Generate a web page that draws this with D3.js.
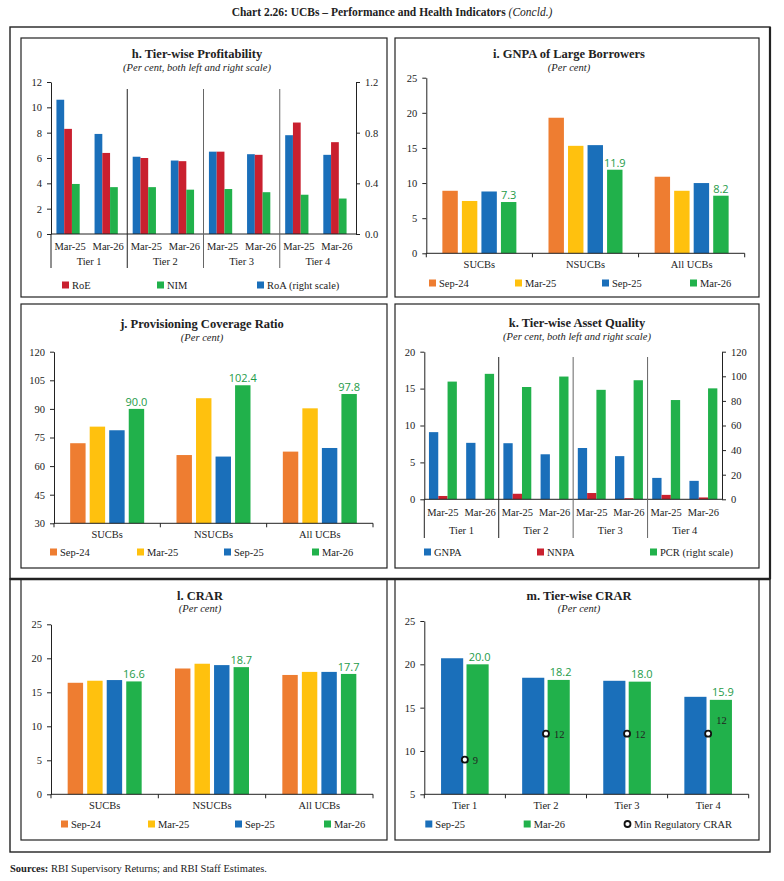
<!DOCTYPE html>
<html>
<head>
<meta charset="utf-8">
<script src="https://cdn.jsdelivr.net/npm/d3@7"></script>
<style>
  body { margin: 0; background: #fff; }
  svg text { font-family: "Liberation Serif", serif; fill: #222; }
  svg text.val { font-family: "Open Sans", sans-serif; fill: #1E9B48; }
</style>
</head>
<body>
<svg id="chart" width="784" height="881"></svg>
<script>
// ---- data ----
const tiers = ['Tier 1', 'Tier 2', 'Tier 3', 'Tier 4']
const tierPeriods = ['Mar-25', 'Mar-26']

// h. Tier-wise Profitability (Mar-25, Mar-26 for each tier)
const roe = [8.3, 6.4, 6.0, 5.75, 6.5, 6.25, 8.8, 7.25]
const nim = [3.95, 3.7, 3.7, 3.5, 3.55, 3.3, 3.1, 2.8]
const roa = [1.06, 0.79, 0.61, 0.58, 0.65, 0.63, 0.78, 0.625]
const profitLeftTicks = [0, 2, 4, 6, 8, 10, 12]
const profitRightTicks = [0, 0.4, 0.8, 1.2]

// i, j, l: by bank group and period
const bankGroups = ['SUCBs', 'NSUCBs', 'All UCBs']
const periods = ['Sep-24', 'Mar-25', 'Sep-25', 'Mar-26']

const gnpaSep24 = [8.9, 19.3, 10.9]
const gnpaMar25 = [7.45, 15.3, 8.9]
const gnpaSep25 = [8.8, 15.4, 10.0]
const gnpaMar26 = [7.3, 11.9, 8.2]
const gnpaTicks = [0, 5, 10, 15, 20, 25]

const pcrSep24 = [72.0, 65.8, 67.6]
const pcrMar25 = [80.7, 95.6, 90.3]
const pcrSep25 = [78.8, 65.0, 69.5]
const pcrMar26 = [90.0, 102.4, 97.8]
const pcrTicks = [30, 45, 60, 75, 90, 105, 120]

const crarSep24 = [16.4, 18.5, 17.55]
const crarMar25 = [16.7, 19.2, 18.0]
const crarSep25 = [16.8, 19.0, 18.0]
const crarMar26 = [16.6, 18.7, 17.7]
const crarTicks = [0, 5, 10, 15, 20, 25]

// k. Tier-wise Asset Quality
const tierGnpa = [9.1, 7.65, 7.6, 6.1, 6.95, 5.85, 2.9, 2.5]
const tierNnpa = [0.45, 0.0, 0.75, 0.0, 0.85, 0.15, 0.6, 0.25]
const tierPcr = [95.7, 102.0, 91.3, 99.8, 89.0, 96.8, 80.7, 90.2]
const aqLeftTicks = [0, 5, 10, 15, 20]
const aqRightTicks = [0, 20, 40, 60, 80, 100, 120]

// m. Tier-wise CRAR
const tierCrarSep25 = [20.7, 18.45, 18.1, 16.25]
const tierCrarMar26 = [20.0, 18.2, 18.0, 15.9]
const minCrar = [9, 12, 12, 12]
const tierCrarTicks = [5, 10, 15, 20, 25]

// ---- drawing ----
const C = {
  orange: '#EE7D31', yellow: '#FFC10E', blue: '#1A6FBA',
  green: '#21B14B', red: '#C9202F', line: '#222'
}

const svg = d3.select('#chart')

function frame(x0, y0, x1, y1, w = 1.2) {
  svg.append('rect')
    .attr('x', x0).attr('y', y0)
    .attr('width', x1 - x0).attr('height', y1 - y0)
    .attr('fill', 'none').attr('stroke', C.line).attr('stroke-width', w)
}

function titles(cx, y, title, sub) {
  svg.append('text').attr('x', cx).attr('y', y)
    .attr('text-anchor', 'middle').attr('font-size', 12.5).attr('font-weight', 'bold')
    .text(title)
  svg.append('text').attr('x', cx).attr('y', y + 12.5)
    .attr('text-anchor', 'middle').attr('font-size', 10.5).attr('font-style', 'italic')
    .text(sub)
}

function legend(items, y) {
  items.forEach(d => {
    if (d.circle) {
      svg.append('circle').attr('cx', d.x + 3.5).attr('cy', y)
        .attr('r', 3).attr('fill', '#fff').attr('stroke', '#111').attr('stroke-width', 1.8)
    } else {
      svg.append('rect').attr('x', d.x).attr('y', y - 3.5)
        .attr('width', 7).attr('height', 7).attr('fill', d.color)
    }
    svg.append('text').attr('x', d.x + 10).attr('y', y + 3.6)
      .attr('font-size', 10.5).text(d.label)
  })
}

function styleAxis(g) {
  g.attr('color', C.line).attr('font-size', 10.5)
  g.select('.domain').attr('stroke-width', 1)
  g.selectAll('.tick line').attr('stroke-width', 1)
}

// grouped bars (i, j, l): 3 bank groups x 4 periods
function groupedChart(o) {
  const x0 = d3.scaleBand().domain(bankGroups).range([o.left, o.right])
  const gw = 74
  const x1 = d3.scaleBand().domain(periods)
    .range([(x0.bandwidth() - gw) / 2, (x0.bandwidth() + gw) / 2])
    .paddingInner(0.21)
  const y = d3.scaleLinear().domain(o.domain).range([o.zero, o.top])
  const cols = [C.orange, C.yellow, C.blue, C.green]

  o.series.forEach((vals, si) => {
    svg.append('g').selectAll('rect')
      .data(vals)
      .join('rect')
      .attr('x', (d, i) => x0(bankGroups[i]) + x1(periods[si]))
      .attr('y', d => y(d))
      .attr('width', x1.bandwidth())
      .attr('height', d => y(o.domain[0]) - y(d))
      .attr('fill', cols[si])
  })

  // value labels on the last series
  svg.append('g').selectAll('text')
    .data(o.series[3])
    .join('text')
    .attr('class', 'val')
    .attr('x', (d, i) => x0(bankGroups[i]) + x1(periods[3]) + x1.bandwidth() / 2)
    .attr('y', d => y(d) - 3)
    .attr('text-anchor', 'middle')
    .attr('font-size', 11)
    .text(d => d.toFixed(1))

  const ax = svg.append('g').attr('transform', `translate(${o.left},0)`)
    .call(d3.axisLeft(y).tickValues(o.ticks).tickSize(4).tickSizeOuter(0).tickPadding(5))
  styleAxis(ax)

  // category axis with boundary ticks
  svg.append('line').attr('x1', o.left).attr('x2', o.right)
    .attr('y1', o.zero).attr('y2', o.zero).attr('stroke', C.line)
  const bounds = bankGroups.map(g => x0(g)).concat([o.right])
  svg.append('g').selectAll('line')
    .data(bounds)
    .join('line')
    .attr('x1', d => d).attr('x2', d => d)
    .attr('y1', o.zero).attr('y2', o.zero + 4)
    .attr('stroke', C.line)
  svg.append('g').selectAll('text')
    .data(bankGroups)
    .join('text')
    .attr('x', d => x0(d) + x0.bandwidth() / 2)
    .attr('y', o.zero + 14.5)
    .attr('text-anchor', 'middle')
    .attr('font-size', 10.5)
    .text(d => d)

  legend(periods.map((p, i) => ({ x: o.legendX[i], color: cols[i], label: p })), o.legendY)
}

// dual-axis tier charts (h, k): 4 tiers x 2 periods
function tierChart(o) {
  const cats = d3.range(8)
  const x0 = d3.scaleBand().domain(cats).range([o.left, o.right])
  const gw = x0.bandwidth() * o.groupFrac
  const x1 = d3.scaleBand().domain(d3.range(o.series.length))
    .range([(x0.bandwidth() - gw) / 2 + o.shift, (x0.bandwidth() + gw) / 2 + o.shift])
  const yL = d3.scaleLinear().domain(o.leftDomain).range([o.zero, o.top])
  const yR = d3.scaleLinear().domain(o.rightDomain).range([o.zero, o.top])

  o.series.forEach((s, si) => {
    const y = s.right ? yR : yL
    svg.append('g').selectAll('rect')
      .data(s.values)
      .join('rect')
      .attr('x', (d, i) => x0(i) + x1(si))
      .attr('y', d => y(d))
      .attr('width', x1.bandwidth())
      .attr('height', d => y(0) - y(d))
      .attr('fill', s.color)
  })

  const axL = svg.append('g').attr('transform', `translate(${o.left},0)`)
    .call(d3.axisLeft(yL).tickValues(o.leftTicks).tickFormat(o.leftFmt)
      .tickSize(4).tickSizeOuter(0).tickPadding(5))
  styleAxis(axL)
  const axR = svg.append('g').attr('transform', `translate(${o.right},0)`)
    .call(d3.axisRight(yR).tickValues(o.rightTicks).tickFormat(o.rightFmt)
      .tickSize(4).tickSizeOuter(0).tickPadding(5))
  styleAxis(axR)

  svg.append('line').attr('x1', o.left).attr('x2', o.right)
    .attr('y1', o.zero).attr('y2', o.zero).attr('stroke', C.line)
  // left edge continues down to the tier row
  svg.append('line').attr('x1', o.left).attr('x2', o.left)
    .attr('y1', o.zero).attr('y2', o.bottom).attr('stroke', C.line)
  // tier separators
  svg.append('g').selectAll('line')
    .data([2, 4, 6])
    .join('line')
    .attr('x1', d => x0(d)).attr('x2', d => x0(d))
    .attr('y1', o.sepTop).attr('y2', o.bottom)
    .attr('stroke', (d, i) => i === 0 ? C.line : '#666')
    .attr('stroke-width', 1)

  svg.append('g').selectAll('text')
    .data(cats)
    .join('text')
    .attr('x', d => x0(d) + x0.bandwidth() / 2)
    .attr('y', o.catY)
    .attr('text-anchor', 'middle')
    .attr('font-size', 10.5)
    .text(d => tierPeriods[d % 2])
  svg.append('g').selectAll('text')
    .data(tiers)
    .join('text')
    .attr('x', (d, i) => x0(i * 2) + x0.bandwidth())
    .attr('y', o.tierY)
    .attr('text-anchor', 'middle')
    .attr('font-size', 10.5)
    .text(d => d)

  legend(o.series.map((s, i) => o.legend[i]), o.legendY)
}

// ---- page title and frames ----
const head = svg.append('text').attr('x', 392).attr('y', 16).attr('text-anchor', 'middle')
  .attr('font-size', 11.5)
head.append('tspan').attr('font-weight', 'bold')
  .text('Chart 2.26: UCBs \u2013 Performance and Health Indicators ')
head.append('tspan').attr('font-style', 'italic').text('(Concld.)')

frame(10, 27, 770, 579, 1.4)
frame(10, 579, 770, 852, 1.4)
svg.append('line').attr('x1', 770).attr('x2', 770).attr('y1', 27).attr('y2', 579)
  .attr('stroke', C.line).attr('stroke-width', 2.2)
svg.append('line').attr('x1', 10).attr('x2', 770).attr('y1', 579).attr('y2', 579)
  .attr('stroke', C.line).attr('stroke-width', 2.4)

frame(21, 38, 387, 297)
frame(395, 38, 759, 297)
frame(21, 304, 387, 568)
frame(395, 304, 759, 568)
frame(21, 579, 387, 840)
frame(395, 579, 759, 840)

// h
titles(197, 58, 'h. Tier-wise Profitability', '(Per cent, both left and right scale)')
tierChart({
  left: 51, right: 356, top: 82, zero: 234,
  leftDomain: [0, 12], rightDomain: [0, 1.2],
  leftTicks: profitLeftTicks, rightTicks: profitRightTicks,
  leftFmt: d3.format('d'), rightFmt: d3.format('.1f'),
  groupFrac: 0.61, shift: -2,
  series: [
    { values: roa, color: C.blue, right: true },
    { values: roe, color: C.red },
    { values: nim, color: C.green }
  ],
  sepTop: 89, bottom: 268, catY: 250, tierY: 265,
  legend: [
    { x: 257, color: C.blue, label: 'RoA (right scale)' },
    { x: 62, color: C.red, label: 'RoE' },
    { x: 157, color: C.green, label: 'NIM' }
  ],
  legendY: 285
})

// i
titles(569, 58, 'i. GNPA of Large Borrowers', '(Per cent)')
groupedChart({
  left: 426.3, right: 744.7, top: 77.7, zero: 253.3,
  domain: [0, 25], ticks: gnpaTicks,
  series: [gnpaSep24, gnpaMar25, gnpaSep25, gnpaMar26],
  legendX: [429, 515, 602, 690], legendY: 283
})

// j
titles(202, 328, 'j. Provisioning Coverage Ratio', '(Per cent)')
groupedChart({
  left: 54, right: 373, top: 351.7, zero: 523.3,
  domain: [30, 120], ticks: pcrTicks,
  series: [pcrSep24, pcrMar25, pcrSep25, pcrMar26],
  legendX: [50, 137, 224, 312], legendY: 552
})

// k
titles(577, 327, 'k. Tier-wise Asset Quality', '(Per cent, both left and right scale)')
tierChart({
  left: 424.3, right: 722, top: 351.7, zero: 499.3,
  leftDomain: [0, 20], rightDomain: [0, 120],
  leftTicks: aqLeftTicks, rightTicks: aqRightTicks,
  leftFmt: d3.format('d'), rightFmt: d3.format('d'),
  groupFrac: 0.75, shift: 0,
  series: [
    { values: tierGnpa, color: C.blue },
    { values: tierNnpa, color: C.red },
    { values: tierPcr, color: C.green, right: true }
  ],
  sepTop: 357, bottom: 538, catY: 515.5, tierY: 534,
  legend: [
    { x: 424, color: C.blue, label: 'GNPA' },
    { x: 537, color: C.red, label: 'NNPA' },
    { x: 650, color: C.green, label: 'PCR (right scale)' }
  ],
  legendY: 552
})

// l
titles(200, 599.5, 'l. CRAR', '(Per cent)')
groupedChart({
  left: 51, right: 373, top: 624.3, zero: 794.3,
  domain: [0, 25], ticks: crarTicks,
  series: [crarSep24, crarMar25, crarSep25, crarMar26],
  legendX: [61, 148, 235, 324], legendY: 824
})

// m
titles(579, 599.5, 'm. Tier-wise CRAR', '(Per cent)')
{
  const left = 424.3, right = 748.7, top = 621, zero = 794.3
  const x0 = d3.scaleBand().domain(tiers).range([left, right])
  const x1 = d3.scaleBand().domain(['Sep-25', 'Mar-26'])
    .range([(x0.bandwidth() - 47.6) / 2, (x0.bandwidth() + 47.6) / 2]).paddingInner(0.13)
  const y = d3.scaleLinear().domain([5, 25]).range([zero, top])

  ;[[tierCrarSep25, C.blue, 'Sep-25'], [tierCrarMar26, C.green, 'Mar-26']].forEach(([vals, col, key]) => {
    svg.append('g').selectAll('rect')
      .data(vals)
      .join('rect')
      .attr('x', (d, i) => x0(tiers[i]) + x1(key))
      .attr('y', d => y(d))
      .attr('width', x1.bandwidth())
      .attr('height', d => zero - y(d))
      .attr('fill', col)
  })
  svg.append('g').selectAll('text')
    .data(tierCrarMar26)
    .join('text')
    .attr('class', 'val')
    .attr('x', (d, i) => x0(tiers[i]) + x1('Mar-26') + x1.bandwidth() / 2 + 2)
    .attr('y', d => y(d) - 3.5)
    .attr('text-anchor', 'middle')
    .attr('font-size', 11)
    .text(d => d.toFixed(1))

  svg.append('g').selectAll('circle')
    .data(minCrar)
    .join('circle')
    .attr('cx', (d, i) => x0(tiers[i]) + x0.bandwidth() / 2)
    .attr('cy', d => y(d))
    .attr('r', 3)
    .attr('fill', '#fff').attr('stroke', '#111').attr('stroke-width', 1.8)
  svg.append('g').selectAll('text')
    .data(minCrar)
    .join('text')
    .attr('x', (d, i) => x0(tiers[i]) + x0.bandwidth() / 2 + 8)
    .attr('y', (d, i) => y(d) + (i === 3 ? -9.5 : 4))
    .attr('font-size', 10.5)
    .attr('fill', '#333')
    .text(d => d)

  const ax = svg.append('g').attr('transform', `translate(${left},0)`)
    .call(d3.axisLeft(y).tickValues(tierCrarTicks).tickSize(4).tickSizeOuter(0).tickPadding(5))
  styleAxis(ax)
  svg.append('line').attr('x1', left).attr('x2', right)
    .attr('y1', zero).attr('y2', zero).attr('stroke', C.line)
  svg.append('g').selectAll('line')
    .data(tiers.map(t => x0(t)).concat([right]))
    .join('line')
    .attr('x1', d => d).attr('x2', d => d)
    .attr('y1', zero).attr('y2', zero + 4)
    .attr('stroke', C.line)
  svg.append('g').selectAll('text')
    .data(tiers)
    .join('text')
    .attr('x', d => x0(d) + x0.bandwidth() / 2)
    .attr('y', zero + 15)
    .attr('text-anchor', 'middle')
    .attr('font-size', 10.5)
    .text(d => d)

  legend([
    { x: 425.3, color: C.blue, label: 'Sep-25' },
    { x: 523.7, color: C.green, label: 'Mar-26' },
    { x: 624, circle: true, label: 'Min Regulatory CRAR' }
  ], 824)
}

// sources
const src = svg.append('text').attr('x', 10).attr('y', 872).attr('font-size', 10.5)
src.append('tspan').attr('font-weight', 'bold').text('Sources: ')
src.append('tspan').text('RBI Supervisory Returns; and RBI Staff Estimates.')
</script>
</body>
</html>
